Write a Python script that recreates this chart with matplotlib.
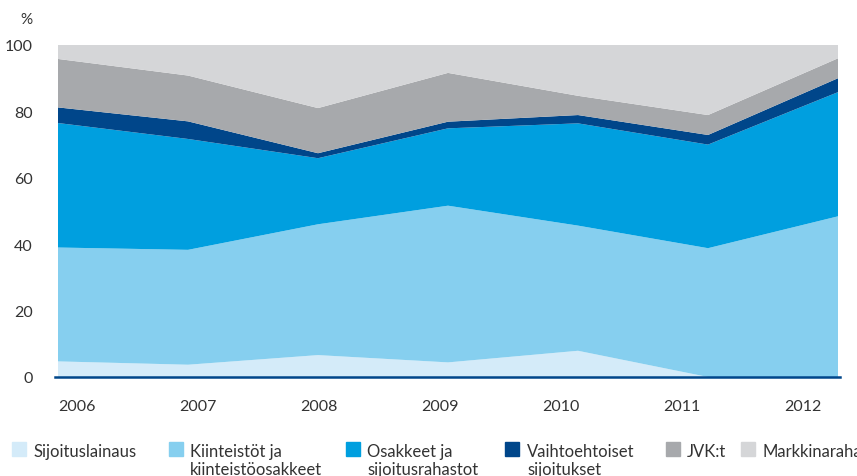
import matplotlib.pyplot as plt
import numpy as np
from matplotlib.patches import Rectangle

# vuodet ja osuudet (%), luettu kuvasta
years = ["2006", "2007", "2008", "2009", "2010", "2011", "2012"]
sijoituslainaus = [4.7, 3.7, 6.6, 4.4, 7.9, 0.0, 0.0]
kiinteistot = [34.3, 34.6, 39.4, 47.2, 37.7, 38.8, 48.4]
osakkeet = [37.5, 33.4, 19.9, 23.3, 30.8, 31.2, 37.4]
vaihtoehtoiset = [4.7, 5.3, 1.5, 2.0, 2.5, 2.9, 4.2]
jvk = [14.6, 13.8, 13.6, 14.7, 5.8, 6.0, 6.0]
markkinaraha = [4.2, 9.2, 19.0, 8.4, 15.3, 21.1, 4.0]

labels = ["Sijoituslainaus", "Kiinteistöt ja\nkiinteistöosakkeet",
          "Osakkeet ja\nsijoitusrahastot", "Vaihtoehtoiset\nsijoitukset",
          "JVK:t", "Markkinarahastot"]
colors = ["#d4ebf9", "#86cfef", "#009fdf", "#00468a", "#a7a9ac", "#d5d6d8"]

txt = "#333333"
plt.rcParams['font.family'] = ['Lato', 'DejaVu Sans']

fig = plt.figure(figsize=(8.57, 4.77), dpi=100)
ax = fig.add_axes([58 / 857, 99 / 477, 780 / 857, 332 / 477])

x = np.arange(len(years))
ax.stackplot(x, sijoituslainaus, kiinteistot, osakkeet, vaihtoehtoiset,
             jvk, markkinaraha, colors=colors, linewidth=0)
ax.axhline(0, color="#00468a", lw=1.8, xmin=-0.004, xmax=1.003, clip_on=False)

ax.set_xlim(0, 6)
ax.set_ylim(0, 100)
ax.set_yticks([0, 20, 40, 60, 80, 100])
ax.tick_params(axis="y", length=0, pad=18, labelsize=11.5, labelcolor=txt)
# vuosiluvut eivät osu datapisteiden kohdalle alkuperäisessä kuvassa
label_pos = np.linspace(0.146, 5.73, len(years))
ax.set_xticks(label_pos)
ax.set_xticklabels(years)
ax.tick_params(axis="x", length=0, pad=16, labelsize=11.5, labelcolor=txt)
for s in ax.spines.values():
    s.set_visible(False)

fig.text(20 / 857, 1 - 20 / 477, "%", fontsize=11, color=txt,
         ha="left", va="center")

# selite
sq_x = [12, 169, 346, 505, 666, 741]
tx_x = [33, 190, 367, 527, 687, 762]
for sx, tx, lab, c in zip(sq_x, tx_x, labels, colors):
    fig.patches.append(Rectangle((sx / 857, 1 - 457 / 477), 14 / 857, 14 / 477,
                                 transform=fig.transFigure, color=c))
    rows = lab.split("\n")
    for i, row in enumerate(rows):
        fig.text(tx / 857, 1 - (457 + 18 * i) / 477, row, fontsize=12,
                 color=txt, ha="left", va="baseline")

plt.savefig("out.png", dpi=100)
